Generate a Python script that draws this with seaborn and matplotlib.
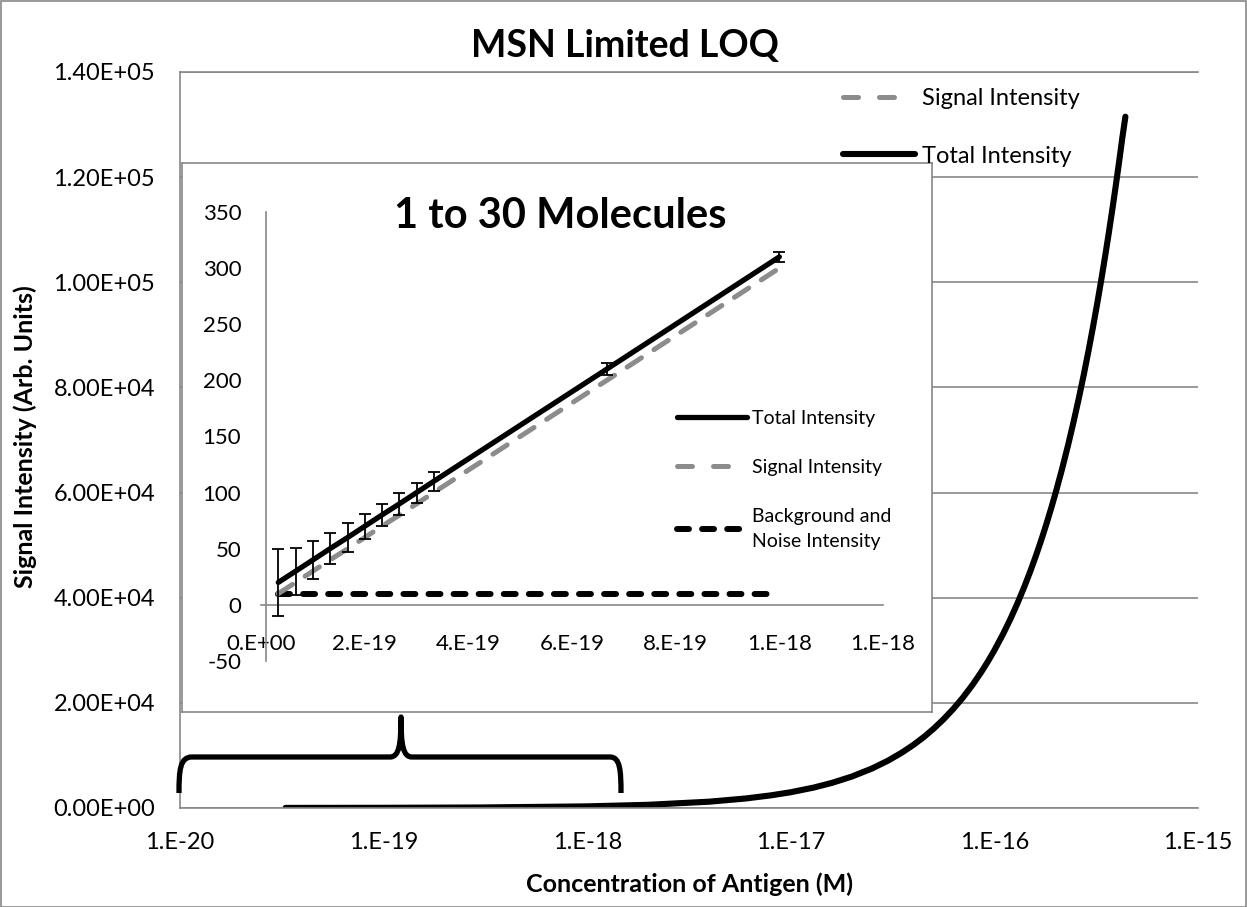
import matplotlib
matplotlib.use("Agg")
import matplotlib.pyplot as plt
import matplotlib.ticker as mticker
import seaborn as sns
import pandas as pd
from matplotlib.lines import Line2D
from matplotlib.patches import Rectangle, PathPatch
from matplotlib.path import Path

# ---------------- data ----------------
# main panel: concentration of antigen (M) vs intensity
main_conc = [3.3e-20, 1e-19, 3e-19, 1e-18, 2e-18, 4e-18, 6e-18, 8e-18, 1e-17, 1.3e-17,
             1.6e-17, 2e-17, 2.5e-17, 3e-17, 3.5e-17, 4e-17, 4.5e-17, 5e-17, 5.6e-17,
             6.3e-17, 7e-17, 7.8e-17, 8.6e-17, 9.3e-17, 1e-16, 1.1e-16, 1.2e-16, 1.3e-16,
             1.4e-16, 1.5e-16, 1.6e-16, 1.7e-16, 1.8e-16, 1.9e-16, 2e-16, 2.15e-16,
             2.3e-16, 2.45e-16, 2.6e-16, 2.75e-16, 2.9e-16, 3.05e-16, 3.2e-16, 3.35e-16,
             3.5e-16, 3.65e-16, 3.8e-16, 3.95e-16, 4.1e-16, 4.25e-16, 4.4e-16]
main_total = [20, 40, 100, 310, 610, 1210, 1810, 2410, 3000, 3900,
              4800, 6000, 7500, 9000, 10500, 12000, 13500, 15000, 16800,
              18900, 21000, 23400, 25800, 27900, 30000, 33000, 36000, 39000,
              42000, 45000, 48000, 51000, 54000, 57000, 60000, 64500,
              69000, 73500, 78000, 82500, 87000, 91500, 96000, 100500,
              105000, 109500, 114000, 118500, 123000, 127500, 131500]
main_signal = [10, 30, 90, 300, 600, 1200, 1800, 2400, 2990, 3890,
               4790, 5990, 7490, 8990, 10490, 11990, 13490, 14990, 16790,
               18890, 20990, 23390, 25790, 27890, 29990, 32990, 35990, 38990,
               41990, 44990, 47990, 50990, 53990, 56990, 59990, 64490,
               68990, 73490, 77990, 82490, 86990, 91490, 95990, 100490,
               104990, 109490, 113990, 118490, 122990, 127490, 131490]

# inset panel: 1 to 30 molecules
inset_molecules = [1, 2, 3, 4, 5, 6, 7, 8, 9, 10, 20, 30]
inset_conc = [3.33e-20, 6.67e-20, 1.0e-19, 1.33e-19, 1.67e-19, 2.0e-19, 2.33e-19,
              2.67e-19, 3.0e-19, 3.33e-19, 6.67e-19, 1.0e-18]
inset_total = [20, 30, 40, 50, 60, 70, 80, 90, 100, 110, 210, 310]
inset_total_err = [30, 21, 17, 14, 13, 11, 10, 9.5, 9, 8.5, 5.5, 4.5]
inset_signal = [10, 20, 30, 40, 50, 60, 70, 80, 90, 100, 200, 300]
inset_background = [10, 10, 10, 10, 10, 10, 10, 10, 10, 10, 10, 10]

main_yticks = [0, 2e4, 4e4, 6e4, 8e4, 1e5, 1.2e5, 1.4e5]
main_ytick_labels = ["0.00E+00", "2.00E+04", "4.00E+04", "6.00E+04", "8.00E+04",
                     "1.00E+05", "1.20E+05", "1.40E+05"]
main_xticks = [1e-20, 1e-19, 1e-18, 1e-17, 1e-16, 1e-15]
main_xtick_labels = ["1.E-20", "1.E-19", "1.E-18", "1.E-17", "1.E-16", "1.E-15"]
inset_xticks = [0, 2e-19, 4e-19, 6e-19, 8e-19, 1e-18, 1.2e-18]
inset_xtick_labels = ["0.E+00", "2.E-19", "4.E-19", "6.E-19", "8.E-19", "1.E-18", "1.E-18"]
inset_yticks = [-50, 0, 50, 100, 150, 200, 250, 300, 350]
inset_ytick_labels = ["-50", "0", "50", "100", "150", "200", "250", "300", "350"]

main_df = pd.DataFrame({"conc": main_conc, "total": main_total, "signal": main_signal})
inset_df = pd.DataFrame({"conc": inset_conc, "total": inset_total, "err": inset_total_err,
                         "signal": inset_signal, "background": inset_background})

# ---------------- style ----------------
sns.set_theme(style="white")
plt.rcParams['font.family'] = ['Lato', 'DejaVu Sans']
plt.rcParams['text.color'] = 'black'
plt.rcParams['axes.labelcolor'] = 'black'
GRID = "#878787"
GRAY = "#8c8c8c"
GRAY_DASH = (0, (3.4, 3.0))
BG_DASH = (0, (2.0, 2.2))

W, H = 1247, 907
fig = plt.figure(figsize=(W / 100, H / 100), dpi=100)
fig.patch.set_facecolor("white")


def fx(px):
    return px / W


def fy(py):
    return 1 - py / H


# ---------------- main axes ----------------
ax = fig.add_axes([fx(180), fy(808), fx(1198) - fx(180), fy(72) - fy(808)])
ax.set_facecolor("white")
ax.set_xscale("log")
sns.lineplot(data=main_df, x="conc", y="signal", ax=ax, color=GRAY, lw=3.6,
             linestyle=GRAY_DASH, dash_capstyle="round", sort=False, legend=False)
sns.lineplot(data=main_df, x="conc", y="total", ax=ax, color="black", lw=4.4,
             sort=False, legend=False, solid_capstyle="round", solid_joinstyle="round")
ax.set_xlim(1e-20, 1e-15)
ax.set_ylim(0, 1.4e5)
ax.set_xticks(main_xticks)
ax.set_xticklabels(main_xtick_labels)
ax.xaxis.set_minor_locator(mticker.NullLocator())
ax.set_yticks(main_yticks)
ax.set_yticklabels(main_ytick_labels)
ax.tick_params(axis="both", length=0, labelsize=17, colors="black")
ax.tick_params(axis="y", pad=18)
ax.tick_params(axis="x", pad=17)
ax.yaxis.grid(True, color=GRID, lw=1.2)
ax.xaxis.grid(False)
for side in ["left", "bottom", "top"]:
    ax.spines[side].set_visible(True)
    ax.spines[side].set_color(GRID)
    ax.spines[side].set_linewidth(1.2)
ax.spines["right"].set_visible(False)
ax.set_xlabel("")
ax.set_ylabel("")

# ---------------- inset frame ----------------
frame = fig.add_axes([fx(182), fy(712), fx(932) - fx(182), fy(163) - fy(712)])
frame.set_facecolor("white")
frame.set_xticks([])
frame.set_yticks([])
for s in frame.spines.values():
    s.set_visible(True)
    s.set_color(GRID)
    s.set_linewidth(1.2)

# ---------------- inset axes ----------------
axi = fig.add_axes([fx(261), fy(661), fx(883) - fx(261), fy(212) - fy(661)])
axi.patch.set_alpha(0)
axi.errorbar(inset_df["conc"], inset_df["total"], yerr=inset_df["err"], fmt="none",
             ecolor="black", elinewidth=1.3, capsize=4.3, capthick=1.3, zorder=3)
sns.lineplot(data=inset_df, x="conc", y="background", ax=axi, color="black", lw=4.3,
             linestyle=BG_DASH, dash_capstyle="round", legend=False, zorder=2)
sns.lineplot(data=inset_df, x="conc", y="signal", ax=axi, color=GRAY, lw=3.6,
             linestyle=GRAY_DASH, dash_capstyle="round", legend=False, zorder=2)
sns.lineplot(data=inset_df, x="conc", y="total", ax=axi, color="black", lw=3.8,
             legend=False, zorder=4, solid_capstyle="round")
axi.set_xlim(0, 1.2e-18)
axi.set_ylim(-50, 350)
axi.set_xticks(inset_xticks)
axi.set_xticklabels(inset_xtick_labels)
axi.set_yticks(inset_yticks)
axi.set_yticklabels(inset_ytick_labels)
axi.tick_params(axis="both", length=0, labelsize=16, colors="black")
axi.tick_params(axis="y", pad=18)
axi.tick_params(axis="x", pad=21)
axi.spines["left"].set_position(("data", 1e-20))
axi.spines["bottom"].set_position(("data", 0))
for side in ["left", "bottom"]:
    axi.spines[side].set_visible(True)
    axi.spines[side].set_color(GRID)
    axi.spines[side].set_linewidth(1.2)
axi.spines["top"].set_visible(False)
axi.spines["right"].set_visible(False)
axi.grid(False)
axi.set_xlabel("")
axi.set_ylabel("")

# inset legend
LEG_GRAY = (0, (3.0, 4.2))
ih = [Line2D([], [], color="black", lw=3.8, solid_capstyle="round"),
      Line2D([], [], color=GRAY, lw=3.6, linestyle=LEG_GRAY, dash_capstyle="round"),
      Line2D([], [], color="black", lw=4.3, linestyle=BG_DASH, dash_capstyle="round")]
leg_i = fig.legend(ih, ["Total Intensity", "Signal Intensity", "Background and\nNoise Intensity"],
                   loc="upper left", bbox_to_anchor=(fx(677), fy(410)), frameon=False,
                   fontsize=14, handlelength=3.6, handletextpad=0.25, labelspacing=1.65,
                   borderpad=0, borderaxespad=0)
for t in leg_i.get_texts():
    t.set_linespacing(1.55)

# main legend
mh = [Line2D([], [], color=GRAY, lw=3.6, linestyle=LEG_GRAY, dash_capstyle="round"),
      Line2D([], [], color="black", lw=4.4, solid_capstyle="round")]
fig.legend(mh, ["Signal Intensity", "Total Intensity"], loc="upper left",
           bbox_to_anchor=(fx(843), fy(88)), frameon=False, fontsize=17,
           handlelength=3.05, handletextpad=0.3, labelspacing=1.55,
           borderpad=0, borderaxespad=0)

# titles and axis labels
fig.text(fx(625), fy(46), "MSN Limited LOQ", ha="center", va="center",
         fontsize=27, fontweight="bold", color="black")
fig.text(fx(560), fy(216), "1 to 30 Molecules", ha="center", va="center",
         fontsize=30, fontweight="bold", color="black")
fig.text(fx(690), fy(884), "Concentration of Antigen (M)", ha="center", va="center",
         fontsize=18, fontweight="bold", color="black")
fig.text(fx(25), fy(437), "Signal Intensity (Arb. Units)", ha="center", va="center",
         fontsize=18, fontweight="bold", rotation=90, color="black")

# curly bracket marking the inset range
pts = [(179, 793), (179, 770), (180, 757), (192, 757),
       (390, 757),
       (399, 757), (401, 745), (401, 717),
       (401, 745), (403, 757), (412, 757),
       (610, 757),
       (620, 757), (621, 770), (621, 793)]
codes = [Path.MOVETO, Path.CURVE4, Path.CURVE4, Path.CURVE4,
         Path.LINETO,
         Path.CURVE4, Path.CURVE4, Path.CURVE4,
         Path.CURVE4, Path.CURVE4, Path.CURVE4,
         Path.LINETO,
         Path.CURVE4, Path.CURVE4, Path.CURVE4]
verts = [(fx(px), fy(py)) for px, py in pts]
fig.patches.append(PathPatch(Path(verts, codes), transform=fig.transFigure, fill=False,
                             edgecolor="black", lw=3.8, capstyle="butt", joinstyle="round",
                             zorder=10))

# outer chart border
fig.patches.append(Rectangle((fx(0.5), fy(906.5)), fx(1246) - fx(0.5), fy(0.5) - fy(906.5),
                             transform=fig.transFigure, fill=False, edgecolor=GRID, lw=1.2,
                             zorder=10))

fig.savefig("out.png", dpi=100, facecolor="white")
